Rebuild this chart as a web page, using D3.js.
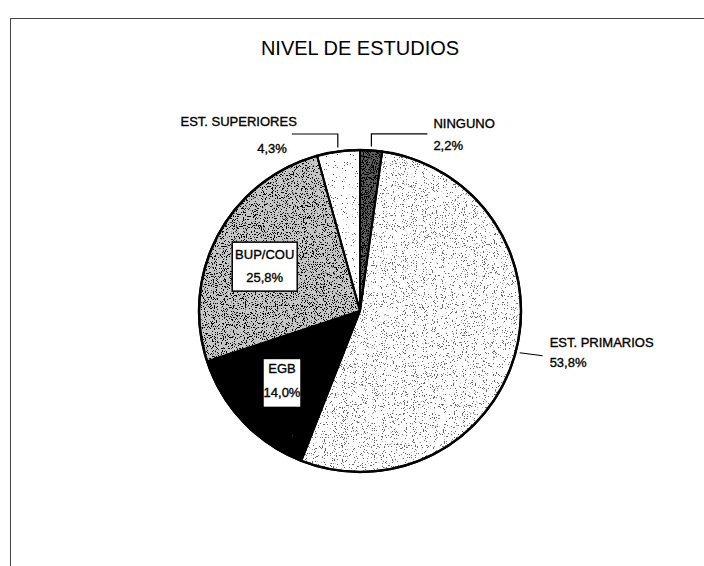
<!DOCTYPE html>
<html>
<head>
<meta charset="utf-8">
<script src="https://cdn.jsdelivr.net/npm/d3@7"></script>
<style>
  html, body { margin: 0; padding: 0; background: #fff; }
  svg { display: block; font-family: "Liberation Sans", Arial, sans-serif; }
  .lbl { stroke: #000; stroke-width: 0.35px; }
</style>
</head>
<body>
<svg id="chart" width="704" height="566"></svg>
<script>
// data
const categories = ['NINGUNO', 'EST. PRIMARIOS', 'EGB', 'BUP/COU', 'EST. SUPERIORES']
const values = [2.2, 53.8, 14.0, 25.8, 4.3]
const title = 'NIVEL DE ESTUDIOS'

// look of each slice: base grey + density of speckle dots
const fills = ['#5c5c5c', '#ffffff', '#000000', '#c6c6c6', '#ffffff']
const speckColor = ['#000', '#666', '#fff', '#000', '#555']
const speckDensity = [0.45, 0.2, -0.3, 0.32, 0.07]

// label layout, relative to the slice anchor point
const labelKind = ['outside', 'outside', 'box', 'box', 'outside']
const leaders = [
  [[0, -12.5], [56, -12.5]],
  [[23, 3]],
  null,
  null,
  [[0, -13.5], [-46, -13.5]],
]
const outsideText = [
  { anchor: 'start', dx: 62, dy: [-18, 4] },
  { anchor: 'start', dx: 30, dy: [-6, 14] },
  null,
  null,
  { anchor: 'end', dx: [-41, -51], dy: [-21.5, 5.5] },
]
const boxes = [null, null,
  { w: 38, h: 49, dx: -2, dy: 0, ty: [15, 39] },
  { w: 65, h: 49, dx: -3, dy: 5, ty: [17, 40] },
  null]

const fmt = (v) => d3.format('.1f')(v).replace('.', ',') + '%'

const svg = d3.select('#chart')
const cx = 360
const cy = 311
const radius = 161

// frame of the scanned page
svg.append('line')
  .attr('x1', 10.5).attr('y1', 18).attr('x2', 10.5).attr('y2', 566)
  .attr('stroke', '#444').attr('stroke-width', 1)
svg.append('line')
  .attr('x1', 10).attr('y1', 18.5).attr('x2', 704).attr('y2', 18.5)
  .attr('stroke', '#444').attr('stroke-width', 1)

svg.append('text')
  .attr('x', 360)
  .attr('y', 55)
  .attr('text-anchor', 'middle')
  .attr('font-size', 20)
  .attr('fill', '#000')
  .text(title)

// speckle filters
const defs = svg.append('defs')
speckDensity.forEach((d, i) => {
  const f = defs.append('filter')
    .attr('id', `speck${i}`)
    .attr('x', 0).attr('y', 0).attr('width', 1).attr('height', 1)
  f.append('feTurbulence')
    .attr('type', 'fractalNoise')
    .attr('baseFrequency', 0.9)
    .attr('numOctaves', 2)
    .attr('seed', 3 + i)
    .attr('result', 'noise')
  // alpha = steep threshold of the red channel
  const k = 25
  const t = 0.5 + (0.5 - d) * 0.45
  f.append('feColorMatrix')
    .attr('in', 'noise')
    .attr('type', 'matrix')
    .attr('values', `0 0 0 0 0  0 0 0 0 0  0 0 0 0 0  ${k} 0 0 0 ${-k * t}`)
    .attr('result', 'mask')
  f.append('feFlood').attr('flood-color', speckColor[i]).attr('result', 'ink')
  f.append('feComposite').attr('in', 'ink').attr('in2', 'mask').attr('operator', 'in').attr('result', 'dots')
  f.append('feComposite').attr('in', 'dots').attr('in2', 'SourceGraphic').attr('operator', 'in')
})

const pie = d3.pie().sort(null).value((d) => d)
const arcs = pie(values)
const arc = d3.arc().innerRadius(0).outerRadius(radius)

const g = svg.append('g').attr('transform', `translate(${cx}, ${cy})`)

g.selectAll('.slice')
  .data(arcs)
  .enter()
  .append('path')
  .attr('class', 'slice')
  .attr('d', arc)
  .attr('fill', (d, i) => fills[i])

g.selectAll('.speck')
  .data(arcs)
  .enter()
  .append('path')
  .attr('class', 'speck')
  .attr('d', arc)
  .attr('fill', '#000')
  .attr('filter', (d, i) => `url(#speck${i})`)

g.selectAll('.edge')
  .data(arcs)
  .enter()
  .append('path')
  .attr('class', 'edge')
  .attr('d', arc)
  .attr('fill', 'none')
  .attr('stroke', '#000')
  .attr('stroke-width', 2)
  .attr('stroke-linejoin', 'round')

g.append('circle')
  .attr('r', radius)
  .attr('fill', 'none')
  .attr('stroke', '#000')
  .attr('stroke-width', 2.5)

// labels
const midAngle = (d) => (d.startAngle + d.endAngle) / 2
const anchorAt = (d, r) => [r * Math.sin(midAngle(d)), -r * Math.cos(midAngle(d))]

arcs.forEach((d, i) => {
  if (labelKind[i] === 'outside') {
    const [ax, ay] = anchorAt(d, radius + 4)
    const pts = [[ax, ay]].concat(leaders[i].map(([dx, dy]) => [ax + dx, ay + dy]))
    g.append('path')
      .attr('d', d3.line()(pts))
      .attr('fill', 'none')
      .attr('stroke', '#000')
      .attr('stroke-width', 1.2)
    const t = outsideText[i]
    const lines = [categories[i], fmt(values[i])]
    lines.forEach((txt, j) => {
      const dx = Array.isArray(t.dx) ? t.dx[j] : t.dx
      g.append('text')
        .attr('class', 'lbl')
        .attr('x', ax + dx)
        .attr('y', ay + t.dy[j])
        .attr('text-anchor', t.anchor)
        .attr('font-size', 13)
        .attr('fill', '#000')
        .text(txt)
    })
  } else {
    const b = boxes[i]
    const [mx, my] = anchorAt(d, radius * 0.65)
    const bx = mx + b.dx - b.w / 2
    const by = my + b.dy - b.h / 2
    const lg = g.append('g')
    lg.append('rect')
      .attr('x', bx).attr('y', by)
      .attr('width', b.w).attr('height', b.h)
      .attr('fill', '#fff')
      .attr('stroke', '#000')
      .attr('stroke-width', 1.5)
    // text is cut at the box edge, as in the original
    const clipId = `clip${i}`
    defs.append('clipPath').attr('id', clipId)
      .append('rect')
      .attr('x', bx).attr('y', by)
      .attr('width', b.w).attr('height', b.h)
    const lines = [categories[i], fmt(values[i])]
    lines.forEach((txt, j) => {
      lg.append('text')
        .attr('class', 'lbl')
        .attr('x', bx + b.w / 2)
        .attr('y', by + b.ty[j])
        .attr('text-anchor', 'middle')
        .attr('font-size', 13)
        .attr('fill', '#000')
        .attr('clip-path', `url(#${clipId})`)
        .text(txt)
    })
  }
})
</script>
</body>
</html>
